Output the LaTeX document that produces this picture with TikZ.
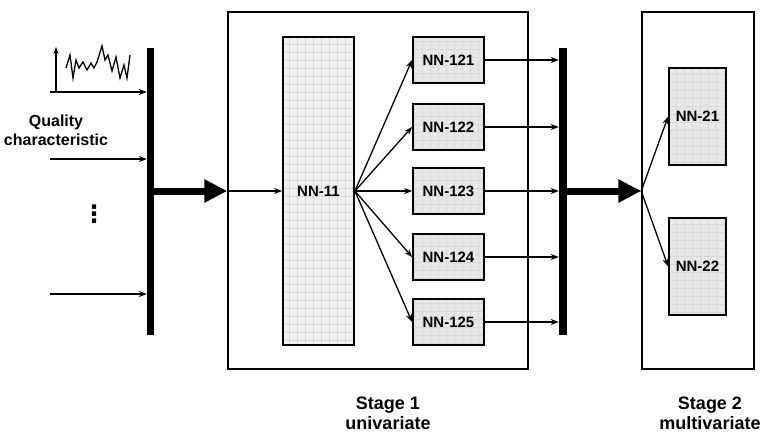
\documentclass[tikz,border=0pt]{standalone}
\usepackage{fontspec}
\setmainfont{Liberation Sans}
\newfontfamily\symfont{DejaVu Sans}
\usetikzlibrary{arrows.meta}
\definecolor{boxfill}{HTML}{E8E8E8}
\definecolor{bigfill}{HTML}{EFEFEF}
\definecolor{gridcol}{HTML}{DADADA}
\begin{document}
\begin{tikzpicture}[x=1pt,y=-1pt,
  lbl/.style={font=\fontsize{15}{18}\selectfont\bfseries, align=center, inner sep=0pt},
  nnbox/.style={draw=black, line width=1.8pt, fill=#1, inner sep=0pt, lbl,
    path picture={\draw[gridcol, line width=0.4pt, step=8pt]
      (path picture bounding box.south west) grid (path picture bounding box.north east);}},
  stagebox/.style={draw=black, line width=1.5pt, inner sep=0pt},
  bar/.style={fill=black, inner sep=0pt, minimum width=7pt},
  thin/.style={line width=1.3pt, -{Stealth[length=8pt,width=6pt]}},
  thick/.style={line width=7pt, -{Triangle[length=23pt 0 0,width=22pt 0 0]}},
]
\useasboundingbox (0,0) rectangle (763,432);

% stage boxes
\node[stagebox, minimum width=300pt, minimum height=357pt] (s1) at (378,190.5) {};
\node[stagebox, minimum width=112pt, minimum height=357pt] (s2) at (698,190.5) {};

% bars
\node[bar, minimum height=287pt] (bar1) at (150.5,191.5) {};
\node[bar, minimum width=8pt, minimum height=287pt] (bar2) at (563,191.5) {};

% input lines
\coordinate (in1) at (50,92);
\coordinate (in2) at (50,159);
\coordinate (in3) at (50,294);
\draw[thin] (in1) -- (in1 -| bar1.west);
\draw[thin] (in2) -- (in2 -| bar1.west);
\draw[thin] (in3) -- (in3 -| bar1.west);

% signal sketch
\coordinate (ax0) at (56,92);
\coordinate (ax1) at (56,47);
\draw[line width=1.3pt, -{Stealth[length=7pt,width=5pt]}] (ax0) -- (ax1);
\draw[line width=1.3pt, line join=miter]
  (66,68) -- (70,55) -- (73,78) -- (76,60) -- (79,68) -- (83,62) -- (87,70) -- (91,63)
  -- (94,68) -- (97,62) -- (102,46) -- (105,60) -- (108,55) -- (112,71) -- (116,57)
  -- (120,78) -- (124,65) -- (127,78) -- (130,55);

\node[lbl, font=\fontsize{16}{19}\selectfont\bfseries, anchor=north] (qc) at (56,115) {Quality\\characteristic};
\node[inner sep=0pt, font=\symfont\fontsize{24}{24}\selectfont\bfseries] (dots) at (94,214) {⋮};

% NN boxes
\node[nnbox=bigfill, minimum width=71pt, minimum height=308pt] (nn11) at (318.5,191) {NN-11};
\foreach \n/\y in {121/60,122/127,123/191,124/257,125/322}{
  \node[nnbox=boxfill, minimum width=71pt, minimum height=46pt] (nn\n) at (448.5,\y) {NN-\n};
}
\node[nnbox=boxfill, minimum width=57pt, minimum height=97pt] (nn21) at (697.5,116.5) {NN-21};
\node[nnbox=boxfill, minimum width=57pt, minimum height=97pt] (nn22) at (697.5,266.5) {NN-22};

% thick arrows
\coordinate (t1) at (bar1.east |- nn11.west);
\draw[thick] (t1) -- (t1 -| s1.west);
\coordinate (s1in) at (s1.west |- nn11.west);
\draw[thin] (s1in) -- (nn11.west);

\foreach \n in {121,122,123,124,125}{
  \draw[thin] (nn11.east) -- (nn\n.west);
  \draw[thin] (nn\n.east) -- (nn\n.east -| bar2.west);
}

\coordinate (t2) at (bar2.east |- nn123.east);
\coordinate (s2in) at (s2.west |- nn123.east);
\draw[thick] (t2) -- (s2in);
\draw[thin] (s2in) -- (nn21.west);
\draw[thin] (s2in) -- (nn22.west);

% stage labels
\node[lbl, font=\fontsize{18}{20.5}\selectfont\bfseries, anchor=north] (st1) at (388,396.5) {Stage 1\\univariate};
\node[lbl, font=\fontsize{18}{20.5}\selectfont\bfseries, anchor=north] (st2) at (710,396.5) {Stage 2\\multivariate};
\end{tikzpicture}
\end{document}
